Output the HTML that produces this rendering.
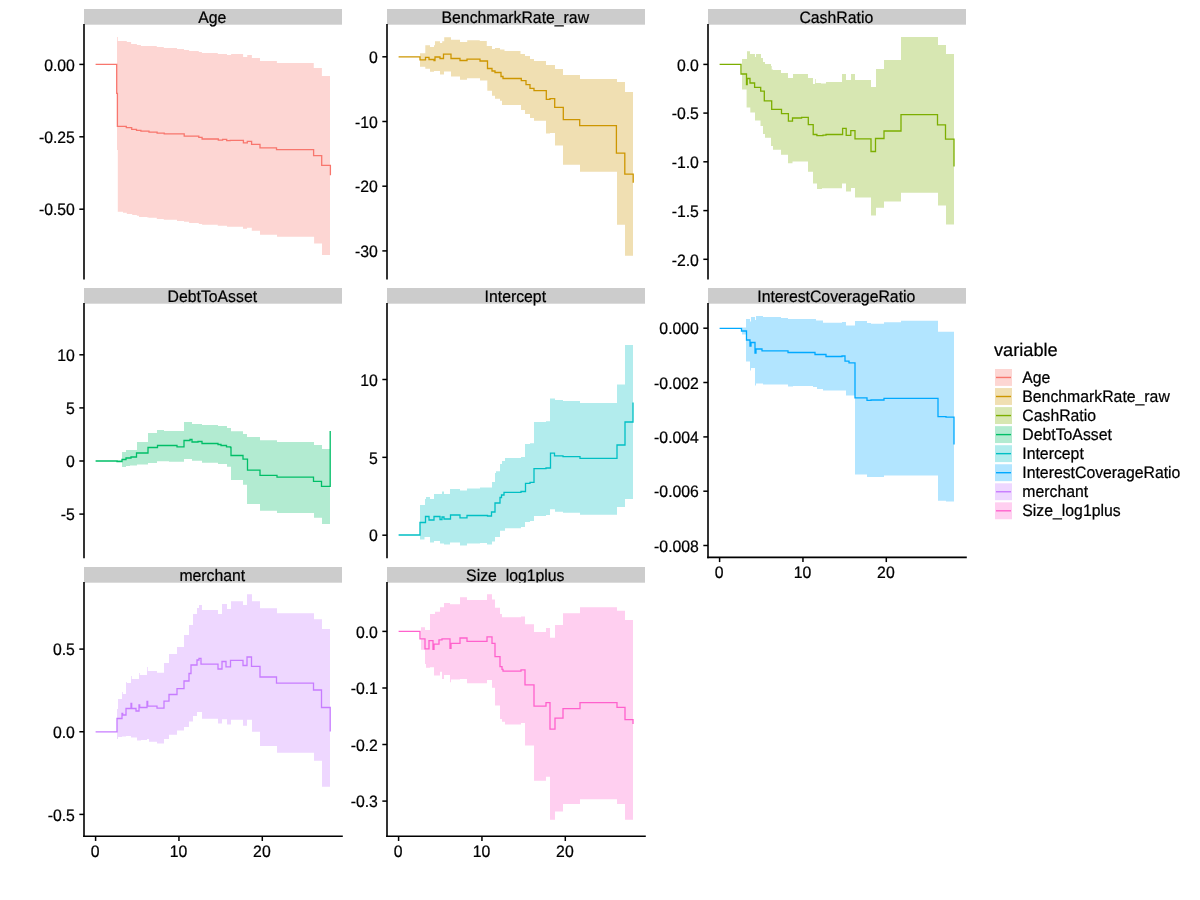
<!DOCTYPE html>
<html><head><meta charset="utf-8"><title>plot</title>
<style>html,body{margin:0;padding:0;background:#fff;}svg{display:block;will-change:transform;}text{text-rendering:geometricPrecision;}</style></head><body>
<svg width="1200" height="900" viewBox="0 0 1200 900" font-family='"Liberation Sans", Arial, sans-serif'>
<rect x="0" y="0" width="1200" height="900" fill="#ffffff"/>
<rect x="84" y="9" width="258" height="15.70" fill="#cccccc"/>
<text transform="translate(212.30,22.90) scale(1,1.05)" font-size="15.8" text-anchor="middle" stroke="#000" stroke-width="0.22">Age</text>
<path d="M117.00,36.90 L117.80,36.90 L117.80,41.00 L126.80,41.00 L126.80,42.00 L131.10,42.00 L131.10,43.90 L136.90,43.90 L136.90,45.00 L140.90,45.00 L140.90,45.90 L156.80,45.90 L156.80,47.00 L163.80,47.00 L163.80,47.90 L177.00,47.90 L177.00,49.00 L184.00,49.00 L184.00,50.00 L189.10,50.00 L189.10,51.00 L198.80,51.00 L198.80,52.00 L201.90,52.00 L201.90,53.00 L217.80,53.00 L217.80,54.00 L227.00,54.00 L227.00,55.00 L231.10,55.00 L231.10,54.00 L243.10,54.00 L243.10,56.90 L247.25,56.90 L247.25,55.00 L251.90,55.00 L251.90,58.10 L260.00,58.10 L260.00,61.00 L276.90,61.00 L276.90,62.90 L313.75,62.90 L313.75,68.10 L321.90,68.10 L321.90,76.00 L330.00,76.00 L330.00,254.90 L322.00,254.90 L322.00,243.60 L314.10,243.60 L314.10,236.80 L277.00,236.80 L277.00,234.80 L260.00,234.80 L260.00,230.80 L251.80,230.80 L251.80,227.80 L247.00,227.80 L247.00,228.70 L243.00,228.70 L243.00,226.70 L227.00,226.70 L227.00,225.80 L217.80,225.80 L217.80,224.80 L202.10,224.80 L202.10,223.90 L198.80,223.90 L198.80,222.90 L189.10,222.90 L189.10,221.80 L184.00,221.80 L184.00,220.90 L177.00,220.90 L177.00,219.80 L163.80,219.80 L163.80,218.90 L156.80,218.90 L156.80,217.80 L148.80,217.80 L148.80,217.50 L147.40,217.50 L147.40,216.90 L139.00,216.90 L139.00,215.80 L136.90,215.80 L136.90,215.00 L132.20,215.00 L132.20,213.90 L126.80,213.90 L126.80,212.80 L123.00,212.80 L123.00,211.80 L117.80,211.80 L117.80,150.00 L117.00,150.00 Z" fill="#F8766D" fill-opacity="0.3" stroke="none"/>
<path d="M95.60,64.40 H116.70 V93.40 H117.40 V126.40 H126.30 V127.70 H131.70 V129.30 H136.50 V130.40 H140.90 V131.20 H149.00 V132.20 H157.10 V133.10 H164.20 V133.80 H184.20 V136.10 H198.80 V137.40 H202.10 V139.00 H218.30 V140.20 H222.60 V139.40 H226.70 V140.70 H230.20 V140.40 H243.40 V142.90 H247.30 V141.30 H251.60 V144.30 H260.00 V147.80 H276.50 V149.60 H313.60 V155.70 H321.70 V165.30 H330.40 V175.20" fill="none" stroke="#F8766D" stroke-width="1.3" stroke-linejoin="miter" stroke-linecap="butt"/>
<line x1="84" y1="24.7" x2="84" y2="278.6" stroke="#000" stroke-width="1.6" stroke-linecap="square"/>
<line x1="79.33" y1="64.4" x2="84" y2="64.4" stroke="#000" stroke-width="1.5"/>
<text transform="translate(74.90,70.60) scale(1,1.05)" font-size="15.8" text-anchor="end" stroke="#000" stroke-width="0.22">0.00</text>
<line x1="79.33" y1="136.8" x2="84" y2="136.8" stroke="#000" stroke-width="1.5"/>
<text transform="translate(74.90,143.00) scale(1,1.05)" font-size="15.8" text-anchor="end" stroke="#000" stroke-width="0.22">-0.25</text>
<line x1="79.33" y1="209.2" x2="84" y2="209.2" stroke="#000" stroke-width="1.5"/>
<text transform="translate(74.90,215.40) scale(1,1.05)" font-size="15.8" text-anchor="end" stroke="#000" stroke-width="0.22">-0.50</text>
<rect x="387" y="9" width="258" height="15.70" fill="#cccccc"/>
<text transform="translate(515.30,22.90) scale(1,1.05)" font-size="15.8" text-anchor="middle" stroke="#000" stroke-width="0.22">BenchmarkRate_raw</text>
<path d="M420.00,53.20 L425.30,53.20 L425.30,45.20 L430.00,45.20 L430.00,47.00 L434.00,47.00 L434.00,45.20 L435.00,45.20 L435.00,41.20 L440.00,41.20 L440.00,43.00 L442.20,43.00 L442.20,41.20 L444.20,41.20 L444.20,37.20 L451.00,37.20 L451.00,39.80 L460.00,39.80 L460.00,42.00 L467.20,42.00 L467.20,40.20 L479.80,40.20 L479.80,41.00 L486.80,41.00 L486.80,46.00 L492.00,46.00 L492.00,49.00 L495.00,49.00 L495.00,48.00 L500.00,48.00 L500.00,49.50 L504.50,49.50 L504.50,51.00 L520.50,51.00 L520.50,54.00 L525.00,54.00 L525.00,56.00 L530.00,56.00 L530.00,59.00 L534.00,59.00 L534.00,61.00 L546.00,61.00 L546.00,65.00 L555.00,65.00 L555.00,69.00 L563.00,69.00 L563.00,75.00 L580.00,75.00 L580.00,79.00 L617.00,79.00 L617.00,82.00 L625.00,82.00 L625.00,92.00 L633.00,92.00 L633.00,255.70 L625.00,255.70 L625.00,224.80 L617.00,224.80 L617.00,171.70 L580.00,171.70 L580.00,164.70 L563.00,164.70 L563.00,145.60 L555.00,145.60 L555.00,133.00 L550.00,133.00 L550.00,133.60 L546.00,133.60 L546.00,120.70 L534.00,120.70 L534.00,118.00 L530.00,118.00 L530.00,114.00 L525.00,114.00 L525.00,110.00 L521.00,110.00 L521.00,105.00 L502.00,105.00 L502.00,100.70 L500.00,100.70 L500.00,98.70 L495.00,98.70 L495.00,95.70 L492.00,95.70 L492.00,90.70 L487.30,90.70 L487.30,80.50 L480.00,80.50 L480.00,78.20 L467.00,78.20 L467.00,79.70 L460.00,79.70 L460.00,76.50 L451.00,76.50 L451.00,71.50 L444.00,71.50 L444.00,74.50 L440.00,74.50 L440.00,71.00 L434.00,71.00 L434.00,71.80 L430.00,71.80 L430.00,68.80 L425.30,68.80 L425.30,66.80 L420.00,66.80 Z" fill="#CD9600" fill-opacity="0.3" stroke="none"/>
<path d="M398.60,56.80 H420.00 V59.80 H425.50 V57.30 H429.00 V59.50 H434.00 V60.50 H435.00 V57.00 H440.00 V58.50 H443.50 V54.20 H451.00 V58.50 H460.00 V60.50 H467.00 V59.20 H480.00 V61.00 H487.50 V68.50 H492.00 V71.00 H495.00 V72.50 H501.00 V76.50 H503.00 V78.50 H521.30 V80.70 H526.00 V84.70 H530.00 V88.30 H534.00 V90.70 H546.30 V99.30 H550.00 V98.70 H554.70 V107.30 H563.30 V119.60 H579.70 V125.70 H616.40 V153.10 H624.80 V174.20 H633.20 V182.80" fill="none" stroke="#CD9600" stroke-width="1.3" stroke-linejoin="miter" stroke-linecap="butt"/>
<line x1="387" y1="24.7" x2="387" y2="278.6" stroke="#000" stroke-width="1.6" stroke-linecap="square"/>
<line x1="382.33" y1="56.8" x2="387" y2="56.8" stroke="#000" stroke-width="1.5"/>
<text transform="translate(377.90,63.00) scale(1,1.05)" font-size="15.8" text-anchor="end" stroke="#000" stroke-width="0.22">0</text>
<line x1="382.33" y1="121.5" x2="387" y2="121.5" stroke="#000" stroke-width="1.5"/>
<text transform="translate(377.90,127.70) scale(1,1.05)" font-size="15.8" text-anchor="end" stroke="#000" stroke-width="0.22">-10</text>
<line x1="382.33" y1="186.2" x2="387" y2="186.2" stroke="#000" stroke-width="1.5"/>
<text transform="translate(377.90,192.40) scale(1,1.05)" font-size="15.8" text-anchor="end" stroke="#000" stroke-width="0.22">-20</text>
<line x1="382.33" y1="250.9" x2="387" y2="250.9" stroke="#000" stroke-width="1.5"/>
<text transform="translate(377.90,257.10) scale(1,1.05)" font-size="15.8" text-anchor="end" stroke="#000" stroke-width="0.22">-30</text>
<rect x="708" y="9" width="258" height="15.70" fill="#cccccc"/>
<text transform="translate(836.30,22.90) scale(1,1.05)" font-size="15.8" text-anchor="middle" stroke="#000" stroke-width="0.22">CashRatio</text>
<path d="M742.00,59.00 L747.00,59.00 L747.00,51.20 L750.00,51.20 L750.00,54.00 L755.00,54.00 L755.00,57.00 L756.00,57.00 L756.00,54.00 L761.00,54.00 L761.00,58.00 L763.00,58.00 L763.00,62.00 L765.00,62.00 L765.00,64.00 L771.00,64.00 L771.00,66.00 L771.70,66.00 L771.70,69.50 L773.00,69.50 L773.00,70.00 L781.00,70.00 L781.00,73.00 L788.00,73.00 L788.00,78.00 L793.00,78.00 L793.00,74.00 L808.00,74.00 L808.00,78.00 L813.00,78.00 L813.00,84.00 L815.00,84.00 L815.00,79.00 L815.70,79.00 L815.70,83.00 L821.00,83.00 L821.00,83.50 L826.00,83.50 L826.00,82.00 L842.00,82.00 L842.00,74.00 L846.00,74.00 L846.00,80.00 L851.00,80.00 L851.00,74.00 L855.00,74.00 L855.00,80.00 L871.00,80.00 L871.00,87.00 L876.00,87.00 L876.00,69.00 L884.00,69.00 L884.00,60.00 L901.00,60.00 L901.00,37.00 L938.00,37.00 L938.00,45.00 L946.00,45.00 L946.00,54.00 L954.00,54.00 L954.00,224.60 L946.00,224.60 L946.00,205.40 L938.00,205.40 L938.00,192.80 L901.00,192.80 L901.00,201.50 L884.00,201.50 L884.00,207.80 L876.00,207.80 L876.00,215.50 L871.00,215.50 L871.00,197.40 L855.00,197.40 L855.00,188.00 L851.00,188.00 L851.00,191.60 L846.00,191.60 L846.00,183.40 L842.00,183.40 L842.00,188.30 L822.00,188.30 L822.00,188.90 L817.00,188.90 L817.00,183.40 L813.00,183.40 L813.00,171.80 L808.00,171.80 L808.00,161.40 L792.50,161.40 L792.50,163.20 L788.00,163.20 L788.00,154.70 L781.00,154.70 L781.00,149.80 L773.00,149.80 L773.00,146.00 L771.00,146.00 L771.00,137.80 L765.00,137.80 L765.00,133.90 L763.00,133.90 L763.00,126.00 L760.50,126.00 L760.50,120.50 L755.00,120.50 L755.00,112.50 L750.30,112.50 L750.30,107.60 L746.60,107.60 L746.60,89.60 L742.00,89.60 Z" fill="#7CAE00" fill-opacity="0.3" stroke="none"/>
<path d="M719.60,64.30 H741.00 V74.00 H746.50 V84.50 H747.20 V78.50 H750.00 V83.00 H754.60 V87.40 H760.70 V91.10 H764.30 V100.90 H771.70 V109.40 H781.50 V113.70 H788.40 V121.10 H792.50 V118.00 H801.60 V117.40 H808.30 V124.70 H813.20 V134.50 H816.90 V135.70 H823.00 V135.10 H826.00 V134.50 H842.60 V128.40 H846.20 V135.30 H850.80 V130.70 H855.00 V138.90 H871.00 V151.50 H875.50 V138.50 H884.00 V131.00 H901.00 V114.70 H937.50 V124.80 H945.50 V139.20 H954.00 V166.40" fill="none" stroke="#7CAE00" stroke-width="1.3" stroke-linejoin="miter" stroke-linecap="butt"/>
<line x1="708" y1="24.7" x2="708" y2="278.6" stroke="#000" stroke-width="1.6" stroke-linecap="square"/>
<line x1="703.33" y1="64.4" x2="708" y2="64.4" stroke="#000" stroke-width="1.5"/>
<text transform="translate(698.90,70.60) scale(1,1.05)" font-size="15.8" text-anchor="end" stroke="#000" stroke-width="0.22">0.0</text>
<line x1="703.33" y1="113.1" x2="708" y2="113.1" stroke="#000" stroke-width="1.5"/>
<text transform="translate(698.90,119.30) scale(1,1.05)" font-size="15.8" text-anchor="end" stroke="#000" stroke-width="0.22">-0.5</text>
<line x1="703.33" y1="161.8" x2="708" y2="161.8" stroke="#000" stroke-width="1.5"/>
<text transform="translate(698.90,168.00) scale(1,1.05)" font-size="15.8" text-anchor="end" stroke="#000" stroke-width="0.22">-1.0</text>
<line x1="703.33" y1="210.6" x2="708" y2="210.6" stroke="#000" stroke-width="1.5"/>
<text transform="translate(698.90,216.80) scale(1,1.05)" font-size="15.8" text-anchor="end" stroke="#000" stroke-width="0.22">-1.5</text>
<line x1="703.33" y1="259.3" x2="708" y2="259.3" stroke="#000" stroke-width="1.5"/>
<text transform="translate(698.90,265.50) scale(1,1.05)" font-size="15.8" text-anchor="end" stroke="#000" stroke-width="0.22">-2.0</text>
<rect x="84" y="288" width="258" height="15.70" fill="#cccccc"/>
<text transform="translate(212.30,301.90) scale(1,1.05)" font-size="15.8" text-anchor="middle" stroke="#000" stroke-width="0.22">DebtToAsset</text>
<path d="M117.00,460.00 L122.00,460.00 L122.00,452.00 L126.00,452.00 L126.00,450.00 L137.00,450.00 L137.00,442.00 L148.00,442.00 L148.00,433.00 L157.00,433.00 L157.00,430.00 L164.00,430.00 L164.00,431.00 L184.00,431.00 L184.00,422.00 L192.00,422.00 L192.00,424.00 L202.00,424.00 L202.00,425.00 L218.00,425.00 L218.00,426.00 L227.00,426.00 L227.00,428.00 L231.00,428.00 L231.00,431.20 L243.00,431.20 L243.00,434.00 L247.00,434.00 L247.00,437.10 L260.00,437.10 L260.00,440.20 L277.00,440.20 L277.00,442.00 L314.00,442.00 L314.00,445.10 L322.00,445.10 L322.00,449.00 L330.00,449.00 L330.00,523.90 L322.00,523.90 L322.00,517.80 L314.00,517.80 L314.00,512.90 L277.00,512.90 L277.00,510.80 L260.00,510.80 L260.00,504.00 L247.00,504.00 L247.00,484.80 L243.00,484.80 L243.00,479.90 L231.00,479.90 L231.00,466.70 L227.00,466.70 L227.00,464.00 L218.00,464.00 L218.00,462.80 L202.00,462.80 L202.00,460.80 L192.00,460.80 L192.00,459.00 L184.00,459.00 L184.00,461.80 L169.00,461.80 L169.00,461.20 L157.00,461.20 L157.00,463.00 L148.00,463.00 L148.00,464.50 L137.00,464.50 L137.00,465.50 L130.00,465.50 L130.00,466.00 L126.00,466.00 L126.00,467.00 L122.00,467.00 L122.00,462.00 L117.00,462.00 Z" fill="#00BE67" fill-opacity="0.3" stroke="none"/>
<path d="M95.60,461.00 H117.00 V461.50 H122.00 V459.50 H126.00 V458.00 H131.00 V457.00 H136.50 V453.00 H148.00 V447.50 H157.50 V445.50 H177.00 V446.80 H184.00 V440.50 H190.00 V439.50 H192.00 V442.00 H198.00 V441.50 H202.00 V443.50 H218.00 V444.50 H221.00 V445.50 H226.50 V446.80 H230.50 V447.50 H231.00 V455.50 H243.00 V459.10 H247.50 V470.10 H260.00 V475.40 H277.00 V477.10 H313.50 V481.40 H321.50 V486.30 H330.20 V431.00" fill="none" stroke="#00BE67" stroke-width="1.3" stroke-linejoin="miter" stroke-linecap="butt"/>
<line x1="84" y1="303.7" x2="84" y2="557.4" stroke="#000" stroke-width="1.6" stroke-linecap="square"/>
<line x1="79.33" y1="354.8" x2="84" y2="354.8" stroke="#000" stroke-width="1.5"/>
<text transform="translate(74.90,361.00) scale(1,1.05)" font-size="15.8" text-anchor="end" stroke="#000" stroke-width="0.22">10</text>
<line x1="79.33" y1="407.9" x2="84" y2="407.9" stroke="#000" stroke-width="1.5"/>
<text transform="translate(74.90,414.10) scale(1,1.05)" font-size="15.8" text-anchor="end" stroke="#000" stroke-width="0.22">5</text>
<line x1="79.33" y1="461.0" x2="84" y2="461.0" stroke="#000" stroke-width="1.5"/>
<text transform="translate(74.90,467.20) scale(1,1.05)" font-size="15.8" text-anchor="end" stroke="#000" stroke-width="0.22">0</text>
<line x1="79.33" y1="514.1" x2="84" y2="514.1" stroke="#000" stroke-width="1.5"/>
<text transform="translate(74.90,520.30) scale(1,1.05)" font-size="15.8" text-anchor="end" stroke="#000" stroke-width="0.22">-5</text>
<rect x="387" y="288" width="258" height="15.70" fill="#cccccc"/>
<text transform="translate(515.30,301.90) scale(1,1.05)" font-size="15.8" text-anchor="middle" stroke="#000" stroke-width="0.22">Intercept</text>
<path d="M420.00,505.00 L425.00,505.00 L425.00,499.00 L426.00,499.00 L426.00,497.00 L430.00,497.00 L430.00,499.00 L434.00,499.00 L434.00,494.00 L442.00,494.00 L442.00,491.50 L444.00,491.50 L444.00,494.00 L450.00,494.00 L450.00,489.00 L460.00,489.00 L460.00,490.50 L467.00,490.50 L467.00,488.50 L480.00,488.50 L480.00,487.50 L492.00,487.50 L492.00,482.00 L495.00,482.00 L495.00,473.10 L496.00,473.10 L496.00,471.20 L500.00,471.20 L500.00,464.00 L502.00,464.00 L502.00,461.10 L505.00,461.10 L505.00,458.00 L521.00,458.00 L521.00,457.10 L525.00,457.10 L525.00,444.00 L530.00,444.00 L530.00,443.30 L534.00,443.30 L534.00,422.00 L546.00,422.00 L546.00,421.20 L550.00,421.20 L550.00,398.40 L555.00,398.40 L555.00,400.00 L563.00,400.00 L563.00,401.00 L580.00,401.00 L580.00,403.00 L617.00,403.00 L617.00,384.40 L625.00,384.40 L625.00,345.00 L633.00,345.00 L633.00,499.00 L625.00,499.00 L625.00,507.00 L617.00,507.00 L617.00,514.80 L580.00,514.80 L580.00,512.70 L563.00,512.70 L563.00,511.80 L555.00,511.80 L555.00,509.20 L550.00,509.20 L550.00,515.00 L546.00,515.00 L546.00,516.00 L534.00,516.00 L534.00,521.00 L530.00,521.00 L530.00,522.00 L525.00,522.00 L525.00,527.00 L521.00,527.00 L521.00,528.30 L505.00,528.30 L505.00,530.80 L500.00,530.80 L500.00,537.00 L495.00,537.00 L495.00,541.50 L492.00,541.50 L492.00,544.50 L487.00,544.50 L487.00,543.00 L480.00,543.00 L480.00,543.50 L467.00,543.50 L467.00,545.50 L460.00,545.50 L460.00,542.50 L450.00,542.50 L450.00,544.50 L444.00,544.50 L444.00,543.50 L440.00,543.50 L440.00,541.00 L434.00,541.00 L434.00,542.50 L430.00,542.50 L430.00,537.00 L424.50,537.00 L424.50,539.50 L420.00,539.50 Z" fill="#00BFC4" fill-opacity="0.3" stroke="none"/>
<path d="M398.60,535.00 H420.00 V522.50 H425.50 V516.50 H429.00 V520.00 H434.00 V516.50 H440.00 V519.50 H442.00 V517.00 H444.00 V519.00 H450.50 V515.00 H460.00 V517.80 H467.00 V515.50 H487.50 V516.00 H491.50 V512.00 H495.00 V503.00 H500.00 V497.50 H501.50 V495.00 H504.00 V492.30 H521.00 V491.50 H525.50 V483.30 H530.00 V482.40 H534.00 V468.70 H546.00 V468.00 H550.50 V453.10 H554.50 V455.80 H563.00 V456.60 H580.00 V458.40 H617.00 V445.00 H625.00 V422.00 H633.00 V402.40" fill="none" stroke="#00BFC4" stroke-width="1.3" stroke-linejoin="miter" stroke-linecap="butt"/>
<line x1="387" y1="303.7" x2="387" y2="557.4" stroke="#000" stroke-width="1.6" stroke-linecap="square"/>
<line x1="382.33" y1="379.5" x2="387" y2="379.5" stroke="#000" stroke-width="1.5"/>
<text transform="translate(377.90,385.70) scale(1,1.05)" font-size="15.8" text-anchor="end" stroke="#000" stroke-width="0.22">10</text>
<line x1="382.33" y1="457.35" x2="387" y2="457.35" stroke="#000" stroke-width="1.5"/>
<text transform="translate(377.90,463.55) scale(1,1.05)" font-size="15.8" text-anchor="end" stroke="#000" stroke-width="0.22">5</text>
<line x1="382.33" y1="535.2" x2="387" y2="535.2" stroke="#000" stroke-width="1.5"/>
<text transform="translate(377.90,541.40) scale(1,1.05)" font-size="15.8" text-anchor="end" stroke="#000" stroke-width="0.22">0</text>
<rect x="708" y="288" width="258" height="15.70" fill="#cccccc"/>
<text transform="translate(836.30,301.90) scale(1,1.05)" font-size="15.8" text-anchor="middle" stroke="#000" stroke-width="0.22">InterestCoverageRatio</text>
<path d="M742.00,327.50 L746.00,327.50 L746.00,319.00 L750.00,319.00 L750.00,321.50 L751.00,321.50 L751.00,317.00 L755.00,317.00 L755.00,320.00 L756.00,320.00 L756.00,316.00 L763.00,316.00 L763.00,317.00 L781.00,317.00 L781.00,318.00 L788.00,318.00 L788.00,319.00 L816.00,319.00 L816.00,320.50 L823.00,320.50 L823.00,322.80 L842.00,322.80 L842.00,322.00 L846.00,322.00 L846.00,325.60 L855.00,325.60 L855.00,321.10 L867.00,321.10 L867.00,322.90 L871.00,322.90 L871.00,323.80 L884.00,323.80 L884.00,322.20 L901.00,322.20 L901.00,320.70 L938.00,320.70 L938.00,331.80 L954.00,331.80 L954.00,501.60 L946.00,501.60 L946.00,500.70 L938.00,500.70 L938.00,475.60 L884.00,475.60 L884.00,477.10 L867.00,477.10 L867.00,474.40 L855.00,474.40 L855.00,395.60 L846.00,395.60 L846.00,390.50 L823.00,390.50 L823.00,389.00 L817.00,389.00 L817.00,387.00 L813.00,387.00 L813.00,386.00 L793.00,386.00 L793.00,386.50 L788.00,386.50 L788.00,384.50 L763.00,384.50 L763.00,383.50 L756.00,383.50 L756.00,385.50 L755.00,385.50 L755.00,368.00 L751.00,368.00 L751.00,370.50 L750.00,370.50 L750.00,361.50 L746.00,361.50 L746.00,334.50 L742.00,334.50 Z" fill="#00A9FF" fill-opacity="0.3" stroke="none"/>
<path d="M719.60,328.30 H741.50 V331.00 H746.50 V340.00 H750.00 V346.00 H751.00 V342.50 H755.00 V353.00 H756.00 V349.00 H762.00 V350.80 H788.00 V352.50 H815.00 V354.50 H826.00 V356.50 H842.00 V356.00 H845.00 V361.10 H849.00 V362.90 H855.00 V397.80 H867.00 V400.40 H871.00 V400.00 H884.00 V398.40 H938.00 V416.70 H946.00 V417.10 H954.00 V444.40" fill="none" stroke="#00A9FF" stroke-width="1.3" stroke-linejoin="miter" stroke-linecap="butt"/>
<line x1="708" y1="303.7" x2="708" y2="557.4" stroke="#000" stroke-width="1.6" stroke-linecap="square"/>
<line x1="703.33" y1="328.2" x2="708" y2="328.2" stroke="#000" stroke-width="1.5"/>
<text transform="translate(698.90,334.40) scale(1,1.05)" font-size="15.8" text-anchor="end" stroke="#000" stroke-width="0.22">0.000</text>
<line x1="703.33" y1="382.5" x2="708" y2="382.5" stroke="#000" stroke-width="1.5"/>
<text transform="translate(698.90,388.70) scale(1,1.05)" font-size="15.8" text-anchor="end" stroke="#000" stroke-width="0.22">-0.002</text>
<line x1="703.33" y1="436.9" x2="708" y2="436.9" stroke="#000" stroke-width="1.5"/>
<text transform="translate(698.90,443.10) scale(1,1.05)" font-size="15.8" text-anchor="end" stroke="#000" stroke-width="0.22">-0.004</text>
<line x1="703.33" y1="491.2" x2="708" y2="491.2" stroke="#000" stroke-width="1.5"/>
<text transform="translate(698.90,497.40) scale(1,1.05)" font-size="15.8" text-anchor="end" stroke="#000" stroke-width="0.22">-0.006</text>
<line x1="703.33" y1="545.5" x2="708" y2="545.5" stroke="#000" stroke-width="1.5"/>
<text transform="translate(698.90,551.70) scale(1,1.05)" font-size="15.8" text-anchor="end" stroke="#000" stroke-width="0.22">-0.008</text>
<line x1="708" y1="557.4" x2="966" y2="557.4" stroke="#000" stroke-width="1.6" stroke-linecap="square"/>
<line x1="719.60" y1="557.4" x2="719.60" y2="562.07" stroke="#000" stroke-width="1.5"/>
<text transform="translate(719.20,577.60) scale(1,1.05)" font-size="15.8" text-anchor="middle" stroke="#000" stroke-width="0.22">0</text>
<line x1="802.95" y1="557.4" x2="802.95" y2="562.07" stroke="#000" stroke-width="1.5"/>
<text transform="translate(802.55,577.60) scale(1,1.05)" font-size="15.8" text-anchor="middle" stroke="#000" stroke-width="0.22">10</text>
<line x1="886.30" y1="557.4" x2="886.30" y2="562.07" stroke="#000" stroke-width="1.5"/>
<text transform="translate(885.90,577.60) scale(1,1.05)" font-size="15.8" text-anchor="middle" stroke="#000" stroke-width="0.22">20</text>
<rect x="84" y="567" width="258" height="15.70" fill="#cccccc"/>
<clipPath id="clip0"><rect x="84" y="567" width="258" height="15.50"/></clipPath>
<g clip-path="url(#clip0)"><text transform="translate(212.30,580.90) scale(1,1.05)" font-size="15.8" text-anchor="middle" stroke="#000" stroke-width="0.22">merchant</text>
</g>
<path d="M117.00,709.00 L118.00,709.00 L118.00,699.00 L122.00,699.00 L122.00,692.00 L122.80,692.00 L122.80,694.00 L126.00,694.00 L126.00,682.00 L126.80,682.00 L126.80,683.00 L131.00,683.00 L131.00,676.00 L131.80,676.00 L131.80,679.00 L139.00,679.00 L139.00,673.00 L139.80,673.00 L139.80,675.00 L147.00,675.00 L147.00,667.00 L147.80,667.00 L147.80,671.00 L157.00,671.00 L157.00,672.80 L164.00,672.80 L164.00,663.00 L169.00,663.00 L169.00,654.00 L177.00,654.00 L177.00,647.00 L184.00,647.00 L184.00,635.00 L189.00,635.00 L189.00,625.00 L193.00,625.00 L193.00,614.00 L197.00,614.00 L197.00,608.00 L199.00,608.00 L199.00,605.00 L202.00,605.00 L202.00,610.00 L218.00,610.00 L218.00,614.00 L222.00,614.00 L222.00,604.00 L227.00,604.00 L227.00,609.00 L231.00,609.00 L231.00,601.20 L243.00,601.20 L243.00,604.90 L247.00,604.90 L247.00,594.30 L252.00,594.30 L252.00,601.20 L260.00,601.20 L260.00,608.30 L277.00,608.30 L277.00,613.20 L314.00,613.20 L314.00,619.30 L322.00,619.30 L322.00,629.10 L330.00,629.10 L330.00,786.80 L322.00,786.80 L322.00,760.70 L314.00,760.70 L314.00,752.70 L277.00,752.70 L277.00,745.90 L260.00,745.90 L260.00,731.80 L252.00,731.80 L252.00,719.70 L247.00,719.70 L247.00,725.70 L243.00,725.70 L243.00,719.70 L231.00,719.70 L231.00,724.60 L227.00,724.60 L227.00,719.30 L222.00,719.30 L222.00,723.60 L218.00,723.60 L218.00,718.70 L202.00,718.70 L202.00,712.00 L197.00,712.00 L197.00,716.00 L193.00,716.00 L193.00,721.50 L189.00,721.50 L189.00,727.00 L184.00,727.00 L184.00,730.50 L177.00,730.50 L177.00,734.80 L169.00,734.80 L169.00,739.00 L164.00,739.00 L164.00,743.50 L157.00,743.50 L157.00,741.80 L149.00,741.80 L149.00,739.00 L147.00,739.00 L147.00,740.00 L141.00,740.00 L141.00,740.50 L137.00,740.50 L137.00,737.50 L131.00,737.50 L131.00,736.00 L126.00,736.00 L126.00,736.50 L122.00,736.50 L122.00,737.00 L118.00,737.00 L118.00,739.00 L117.00,739.00 Z" fill="#C77CFF" fill-opacity="0.3" stroke="none"/>
<path d="M95.60,731.80 H117.00 V718.50 H122.00 V713.50 H122.70 V715.00 H126.00 V708.50 H131.00 V703.50 H131.70 V708.50 H136.00 V711.00 H139.00 V705.00 H139.70 V707.50 H147.00 V701.50 H147.70 V706.20 H157.00 V708.20 H164.00 V701.20 H169.00 V694.50 H177.00 V688.70 H184.00 V681.00 H189.00 V673.50 H191.00 V665.00 H197.00 V660.00 H199.00 V658.30 H201.00 V664.20 H218.00 V669.00 H222.00 V661.50 H226.00 V666.80 H230.50 V660.30 H243.00 V665.50 H247.00 V657.00 H251.50 V666.40 H260.00 V677.00 H276.50 V683.20 H313.50 V690.00 H321.50 V707.50 H330.20 V731.60" fill="none" stroke="#C77CFF" stroke-width="1.3" stroke-linejoin="miter" stroke-linecap="butt"/>
<line x1="84" y1="582.7" x2="84" y2="836.3" stroke="#000" stroke-width="1.6" stroke-linecap="square"/>
<line x1="79.33" y1="649.1" x2="84" y2="649.1" stroke="#000" stroke-width="1.5"/>
<text transform="translate(74.90,655.30) scale(1,1.05)" font-size="15.8" text-anchor="end" stroke="#000" stroke-width="0.22">0.5</text>
<line x1="79.33" y1="731.75" x2="84" y2="731.75" stroke="#000" stroke-width="1.5"/>
<text transform="translate(74.90,737.95) scale(1,1.05)" font-size="15.8" text-anchor="end" stroke="#000" stroke-width="0.22">0.0</text>
<line x1="79.33" y1="814.4" x2="84" y2="814.4" stroke="#000" stroke-width="1.5"/>
<text transform="translate(74.90,820.60) scale(1,1.05)" font-size="15.8" text-anchor="end" stroke="#000" stroke-width="0.22">-0.5</text>
<line x1="84" y1="836.3" x2="342" y2="836.3" stroke="#000" stroke-width="1.6" stroke-linecap="square"/>
<line x1="95.60" y1="836.3" x2="95.60" y2="840.97" stroke="#000" stroke-width="1.5"/>
<text transform="translate(95.20,856.50) scale(1,1.05)" font-size="15.8" text-anchor="middle" stroke="#000" stroke-width="0.22">0</text>
<line x1="178.95" y1="836.3" x2="178.95" y2="840.97" stroke="#000" stroke-width="1.5"/>
<text transform="translate(178.55,856.50) scale(1,1.05)" font-size="15.8" text-anchor="middle" stroke="#000" stroke-width="0.22">10</text>
<line x1="262.30" y1="836.3" x2="262.30" y2="840.97" stroke="#000" stroke-width="1.5"/>
<text transform="translate(261.90,856.50) scale(1,1.05)" font-size="15.8" text-anchor="middle" stroke="#000" stroke-width="0.22">20</text>
<rect x="387" y="567" width="258" height="15.70" fill="#cccccc"/>
<clipPath id="clip1"><rect x="387" y="567" width="258" height="15.50"/></clipPath>
<g clip-path="url(#clip1)"><text transform="translate(515.30,580.90) scale(1,1.05)" font-size="15.8" text-anchor="middle" stroke="#000" stroke-width="0.22">Size_log1plus</text>
</g>
<path d="M421.00,627.20 L425.00,627.20 L425.00,630.00 L430.00,630.00 L430.00,613.90 L435.00,613.90 L435.00,611.70 L440.00,611.70 L440.00,607.20 L444.00,607.20 L444.00,603.10 L450.00,603.10 L450.00,604.20 L460.00,604.20 L460.00,597.20 L467.00,597.20 L467.00,600.00 L487.00,600.00 L487.00,594.20 L492.00,594.20 L492.00,599.40 L495.00,599.40 L495.00,607.80 L500.00,607.80 L500.00,613.90 L502.00,613.90 L502.00,617.20 L521.00,617.20 L521.00,616.60 L525.00,616.60 L525.00,624.30 L534.00,624.30 L534.00,632.00 L546.00,632.00 L546.00,628.10 L550.00,628.10 L550.00,637.80 L555.00,637.80 L555.00,625.00 L563.00,625.00 L563.00,613.30 L580.00,613.30 L580.00,607.20 L617.00,607.20 L617.00,610.70 L625.00,610.70 L625.00,619.90 L633.00,619.90 L633.00,819.80 L625.00,819.80 L625.00,803.90 L617.00,803.90 L617.00,799.30 L580.00,799.30 L580.00,803.90 L563.00,803.90 L563.00,811.60 L555.00,811.60 L555.00,819.80 L550.00,819.80 L550.00,776.80 L546.00,776.80 L546.00,780.70 L534.00,780.70 L534.00,745.50 L525.00,745.50 L525.00,723.00 L521.00,723.00 L521.00,724.50 L505.00,724.50 L505.00,721.80 L502.00,721.80 L502.00,719.00 L500.00,719.00 L500.00,705.50 L495.00,705.50 L495.00,687.80 L492.00,687.80 L492.00,680.00 L487.00,680.00 L487.00,683.30 L467.00,683.30 L467.00,678.90 L460.00,678.90 L460.00,679.40 L451.00,679.40 L451.00,682.20 L450.00,682.20 L450.00,675.00 L444.00,675.00 L444.00,678.90 L442.00,678.90 L442.00,671.70 L440.00,671.70 L440.00,675.60 L434.00,675.60 L434.00,667.20 L430.00,667.20 L430.00,667.80 L426.00,667.80 L426.00,663.90 L425.00,663.90 L425.00,649.80 L421.00,649.80 Z" fill="#FF61CC" fill-opacity="0.3" stroke="none"/>
<path d="M398.60,631.40 H420.00 V638.90 H425.00 V648.90 H429.00 V640.60 H433.00 V649.40 H434.00 V644.20 H439.00 V639.80 H442.00 V638.90 H450.00 V648.30 H451.00 V643.30 H460.00 V638.00 H467.00 V641.30 H487.00 V636.90 H492.00 V643.30 H495.00 V656.70 H500.00 V666.70 H502.00 V669.40 H503.00 V671.10 H521.00 V669.80 H525.00 V684.80 H534.00 V706.10 H546.00 V702.70 H550.00 V729.10 H555.00 V718.10 H563.00 V708.60 H580.00 V702.70 H617.00 V707.30 H625.00 V719.60 H633.00 V724.00" fill="none" stroke="#FF61CC" stroke-width="1.3" stroke-linejoin="miter" stroke-linecap="butt"/>
<line x1="387" y1="582.7" x2="387" y2="836.3" stroke="#000" stroke-width="1.6" stroke-linecap="square"/>
<line x1="382.33" y1="631.4" x2="387" y2="631.4" stroke="#000" stroke-width="1.5"/>
<text transform="translate(377.90,637.60) scale(1,1.05)" font-size="15.8" text-anchor="end" stroke="#000" stroke-width="0.22">0.0</text>
<line x1="382.33" y1="688.0" x2="387" y2="688.0" stroke="#000" stroke-width="1.5"/>
<text transform="translate(377.90,694.20) scale(1,1.05)" font-size="15.8" text-anchor="end" stroke="#000" stroke-width="0.22">-0.1</text>
<line x1="382.33" y1="744.5" x2="387" y2="744.5" stroke="#000" stroke-width="1.5"/>
<text transform="translate(377.90,750.70) scale(1,1.05)" font-size="15.8" text-anchor="end" stroke="#000" stroke-width="0.22">-0.2</text>
<line x1="382.33" y1="801.1" x2="387" y2="801.1" stroke="#000" stroke-width="1.5"/>
<text transform="translate(377.90,807.30) scale(1,1.05)" font-size="15.8" text-anchor="end" stroke="#000" stroke-width="0.22">-0.3</text>
<line x1="387" y1="836.3" x2="645" y2="836.3" stroke="#000" stroke-width="1.6" stroke-linecap="square"/>
<line x1="398.60" y1="836.3" x2="398.60" y2="840.97" stroke="#000" stroke-width="1.5"/>
<text transform="translate(398.20,856.50) scale(1,1.05)" font-size="15.8" text-anchor="middle" stroke="#000" stroke-width="0.22">0</text>
<line x1="481.95" y1="836.3" x2="481.95" y2="840.97" stroke="#000" stroke-width="1.5"/>
<text transform="translate(481.55,856.50) scale(1,1.05)" font-size="15.8" text-anchor="middle" stroke="#000" stroke-width="0.22">10</text>
<line x1="565.30" y1="836.3" x2="565.30" y2="840.97" stroke="#000" stroke-width="1.5"/>
<text transform="translate(564.90,856.50) scale(1,1.05)" font-size="15.8" text-anchor="middle" stroke="#000" stroke-width="0.22">20</text>
<text transform="translate(994.00,355.90) scale(1,1.0)" font-size="18.2" stroke="#000" stroke-width="0.22">variable</text>
<rect x="995" y="369.00" width="17" height="16.9" fill="#F8766D" fill-opacity="0.3"/>
<line x1="996" y1="377.45" x2="1011" y2="377.45" stroke="#F8766D" stroke-width="1.4"/>
<text transform="translate(1022.30,382.65) scale(1,1.05)" font-size="15.8" stroke="#000" stroke-width="0.22">Age</text>
<rect x="995" y="388.05" width="17" height="16.9" fill="#CD9600" fill-opacity="0.3"/>
<line x1="996" y1="396.50" x2="1011" y2="396.50" stroke="#CD9600" stroke-width="1.4"/>
<text transform="translate(1022.30,401.70) scale(1,1.05)" font-size="15.8" stroke="#000" stroke-width="0.22">BenchmarkRate_raw</text>
<rect x="995" y="407.10" width="17" height="16.9" fill="#7CAE00" fill-opacity="0.3"/>
<line x1="996" y1="415.55" x2="1011" y2="415.55" stroke="#7CAE00" stroke-width="1.4"/>
<text transform="translate(1022.30,420.75) scale(1,1.05)" font-size="15.8" stroke="#000" stroke-width="0.22">CashRatio</text>
<rect x="995" y="426.15" width="17" height="16.9" fill="#00BE67" fill-opacity="0.3"/>
<line x1="996" y1="434.60" x2="1011" y2="434.60" stroke="#00BE67" stroke-width="1.4"/>
<text transform="translate(1022.30,439.80) scale(1,1.05)" font-size="15.8" stroke="#000" stroke-width="0.22">DebtToAsset</text>
<rect x="995" y="445.20" width="17" height="16.9" fill="#00BFC4" fill-opacity="0.3"/>
<line x1="996" y1="453.65" x2="1011" y2="453.65" stroke="#00BFC4" stroke-width="1.4"/>
<text transform="translate(1022.30,458.85) scale(1,1.05)" font-size="15.8" stroke="#000" stroke-width="0.22">Intercept</text>
<rect x="995" y="464.25" width="17" height="16.9" fill="#00A9FF" fill-opacity="0.3"/>
<line x1="996" y1="472.70" x2="1011" y2="472.70" stroke="#00A9FF" stroke-width="1.4"/>
<text transform="translate(1022.30,477.90) scale(1,1.05)" font-size="15.8" stroke="#000" stroke-width="0.22">InterestCoverageRatio</text>
<rect x="995" y="483.30" width="17" height="16.9" fill="#C77CFF" fill-opacity="0.3"/>
<line x1="996" y1="491.75" x2="1011" y2="491.75" stroke="#C77CFF" stroke-width="1.4"/>
<text transform="translate(1022.30,496.95) scale(1,1.05)" font-size="15.8" stroke="#000" stroke-width="0.22">merchant</text>
<rect x="995" y="502.35" width="17" height="16.9" fill="#FF61CC" fill-opacity="0.3"/>
<line x1="996" y1="510.80" x2="1011" y2="510.80" stroke="#FF61CC" stroke-width="1.4"/>
<text transform="translate(1022.30,516.00) scale(1,1.05)" font-size="15.8" stroke="#000" stroke-width="0.22">Size_log1plus</text>
</svg>
</body></html>
